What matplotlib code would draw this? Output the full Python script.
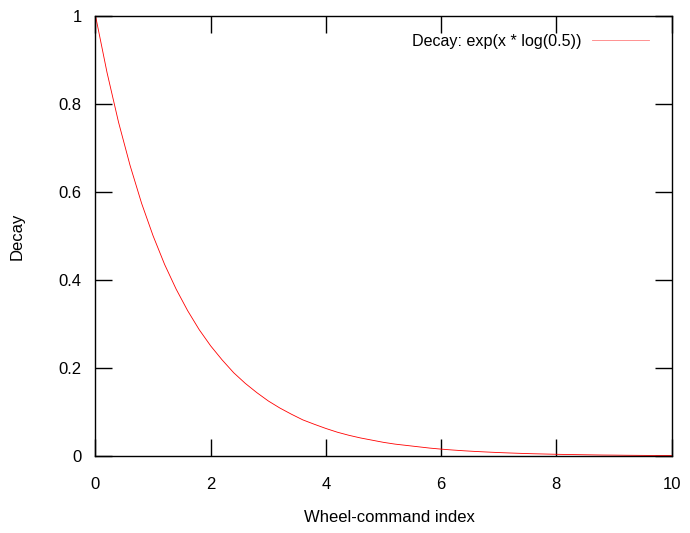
import matplotlib
matplotlib.use("Agg")
import matplotlib.pyplot as plt

plt.rcParams['font.family'] = ['Liberation Sans', 'DejaVu Sans']

# values (step 0.2)
x_vals = [round(i * 0.2, 1) for i in range(51)]
y_vals = [1.000, 0.871, 0.758, 0.660, 0.574, 0.500, 0.435, 0.379, 0.330, 0.287,
          0.250, 0.218, 0.189, 0.165, 0.144, 0.125, 0.109, 0.095, 0.082, 0.072,
          0.0625, 0.054, 0.047, 0.041, 0.036, 0.031, 0.027, 0.024, 0.021, 0.018,
          0.0156, 0.0136, 0.0118, 0.0103, 0.0090, 0.0078, 0.0068, 0.0059, 0.0051, 0.0045,
          0.0039, 0.0034, 0.0030, 0.0026, 0.0022, 0.0020, 0.0017, 0.0015, 0.0013, 0.0011,
          0.00098]
x_ticks = [0, 2, 4, 6, 8, 10]
y_ticks = [0, 0.2, 0.4, 0.6, 0.8, 1]
y_tick_labels = ['0', '0.2', '0.4', '0.6', '0.8', '1']
legend_label = 'Decay: exp(x * log(0.5))'

W, H = 690, 533
fig = plt.figure(figsize=(6.9, 5.33), dpi=100)
ax = fig.add_axes([95.5/W, 1 - 456/H, (671.5-95.5)/W, (456-15.7)/H])
ax.plot(x_vals, y_vals, color='#ff0000', lw=0.6)
ax.set_xlim(0, 10)
ax.set_ylim(0, 1)
ax.set_xticks(x_ticks)
ax.set_yticks(y_ticks)
ax.set_yticklabels(y_tick_labels)
ax.tick_params(direction='in', length=12, width=1, top=True, right=True,
               labelsize=12, pad=10, color='black')
ax.tick_params(axis='x', pad=15)
for s in ax.spines.values():
    s.set_linewidth(1)
ax.set_xlabel('Wheel-command index', fontsize=12)
ax.set_ylabel('Decay', fontsize=12)
ax.xaxis.set_label_coords(389.5/W, 1 - 518/H, transform=fig.transFigure)
ax.yaxis.set_label_coords(17/W, 1 - 236/H, transform=fig.transFigure)
ax.xaxis.label.set_va('center')
ax.yaxis.label.set_va('center')

# legend
fig.text(581/W, 1 - 41.7/H, legend_label, ha='right', va='center', fontsize=11.6)
fig.add_artist(plt.Line2D([592/W, 649/W], [1 - 39.5/H, 1 - 39.5/H],
                          transform=fig.transFigure, color='#ff0000', lw=0.6, alpha=0.5))

fig.savefig('out.png', dpi=100)
